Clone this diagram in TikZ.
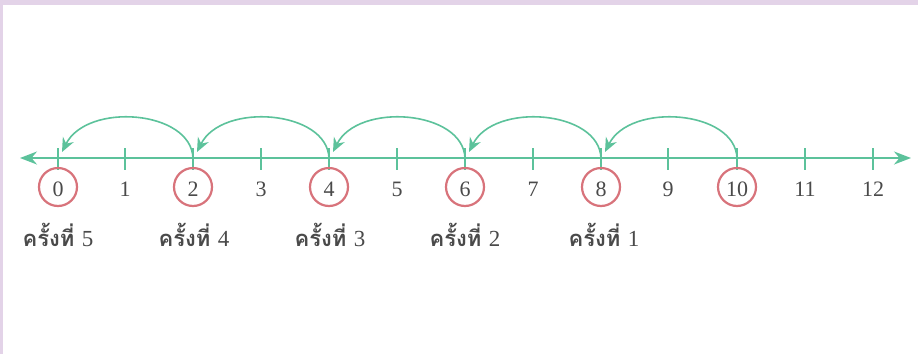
\documentclass[tikz,border=0pt]{standalone}
\usepackage{fontspec}
\newfontfamily\thaifont[Script=Thai]{Loma}
\newfontfamily\numfont{Liberation Serif}
\usetikzlibrary{arrows.meta,calc}
\definecolor{axgreen}{HTML}{5CC29B}
\definecolor{ringred}{HTML}{D8737B}
\definecolor{txtgray}{HTML}{4A4A4A}
\definecolor{lav}{HTML}{E3D3E8}
\tikzset{
  axisline/.style={axgreen, line width=1.8pt},
  tickmark/.style={axgreen, line width=2pt},
  hoparc/.style={axgreen, line width=1.6pt, -{Stealth[length=14pt,width=12pt]}},
  ring/.style={circle, draw=ringred, line width=2.2pt, minimum size=38pt, inner sep=0pt},
  numlabel/.style={text=txtgray, font=\numfont\fontsize{22}{22}\selectfont, anchor=base},
  timelabel/.style={text=txtgray, font=\thaifont\bfseries\fontsize{22}{22}\selectfont, anchor=base}
}
\newcommand{\kn}[1]{ครั้งที่ {\numfont\mdseries\fontsize{23}{23}\selectfont #1}}
\begin{document}
\begin{tikzpicture}[x=1pt,y=-1pt]
\useasboundingbox (0,0) rectangle (918,354);
\fill[white] (0,0) rectangle (918,354);
\fill[lav] (0,0) rectangle (918,5);
\fill[lav] (0,0) rectangle (2.5,354);
% coordinates
\coordinate (L) at (20,158);
\coordinate (R) at (911,158);
\foreach \i/\x in {0/58,1/125,2/193,3/261,4/329,5/397,6/465,7/533,8/601,9/668,10/737,11/805,12/873}{
  \coordinate (t\i) at (\x,158);
  \coordinate (tt\i) at (\x,148);
  \coordinate (tb\i) at (\x,170);
  \coordinate (e\i) at (\x+4,152);
  \coordinate (p\i) at (\x,196);
  \coordinate (q\i) at (\x,187);
}
\draw[axisline, {Stealth[length=17pt,width=13pt]}-{Stealth[length=17pt,width=13pt]}] (L) -- (R);
\foreach \i in {0,...,12}{
  \draw[tickmark] (tt\i) -- (tb\i);
  \node[numlabel] (n\i) at (p\i) {\i};
}
\foreach \i in {0,2,4,6,8,10}{
  \node[ring] (c\i) at (q\i) {};
}
\foreach \a/\b in {10/8,8/6,6/4,4/2,2/0}{
  \draw[hoparc] (t\a) .. controls ($(t\a)+(-2,-48)$) and ($(e\b)+(25,-50)$) .. (e\b);
}
\node[timelabel] (k5) at (58,246) {\kn{5}};
\node[timelabel] (k4) at (194,246) {\kn{4}};
\node[timelabel] (k3) at (330,246) {\kn{3}};
\node[timelabel] (k2) at (465,246) {\kn{2}};
\node[timelabel] (k1) at (604,246) {\kn{1}};
\end{tikzpicture}
\end{document}
